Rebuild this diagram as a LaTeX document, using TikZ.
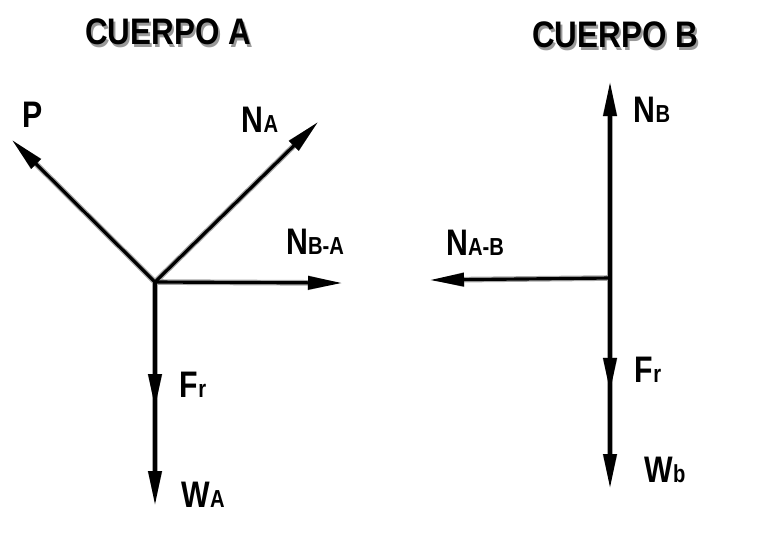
\documentclass[tikz,border=0pt]{standalone}
\usepackage{fontspec}
\setmainfont{Liberation Sans}
\usetikzlibrary{arrows.meta}
\begin{document}
\begin{tikzpicture}[x=0.01cm,y=-0.01cm,
  vec/.style={line width=0.9pt,-{Triangle[length=0.34cm,width=0.13cm]}},
  shd/.style={vec,draw=black!35,fill=black!35,line width=1.6pt,shift={(3,4)}},
  lbl/.style={font=\fontsize{10.5}{11}\selectfont\bfseries,inner sep=0pt,xscale=0.82},
  ttl/.style={font=\fontsize{10.5}{12}\selectfont\bfseries,inner sep=0pt,xscale=0.85}]
\useasboundingbox (0,0) rectangle (771,557);
% body A
\coordinate (OA) at (155,282);
\coordinate (P) at (12,140);
\coordinate (NA) at (318,122);
\coordinate (NBA) at (342,283);
\coordinate (FrA) at (155,408);
\coordinate (WA) at (155,505);
% body B
\coordinate (OB) at (610,278);
\coordinate (NB) at (610,82);
\coordinate (NAB) at (430,280);
\coordinate (FrB) at (610,392);
\coordinate (WB) at (610,488);
\foreach \s in {shd,vec}{
  \draw[\s] (OA) -- (P);
  \draw[\s] (OA) -- (NA);
  \draw[\s] (OA) -- (NBA);
  \draw[\s] (OA) -- (FrA);
  \draw[\s] (OA) -- (WA);
  \draw[\s] (OB) -- (NB);
  \draw[\s] (OB) -- (NAB);
  \draw[\s] (OB) -- (FrB);
  \draw[\s] (OB) -- (WB);
}
\begin{scope}[shift={(2,3)},black!40]
\node[ttl] at (168,32) {CUERPO A};
\node[ttl] at (615,35) {CUERPO B};
\end{scope}
\node[ttl] (tA) at (168,32) {CUERPO A};
\node[ttl] (tB) at (615,35) {CUERPO B};
\node[lbl] (lP) at (33,115) {P};
\node[lbl] (lNA) at (260,120) {N\scriptsize A};
\node[lbl] (lNBA) at (315,242) {N\scriptsize B-A};
\node[lbl] (lFrA) at (193,385) {F\scriptsize r};
\node[lbl] (lWA) at (203,495) {W\scriptsize A};
\node[lbl] (lNB) at (652,110) {N\scriptsize B};
\node[lbl] (lNAB) at (475,243) {N\scriptsize A-B};
\node[lbl] (lFrB) at (648,370) {F\scriptsize r};
\node[lbl] (lWB) at (665,470) {W\scriptsize b};
\end{tikzpicture}
\end{document}
